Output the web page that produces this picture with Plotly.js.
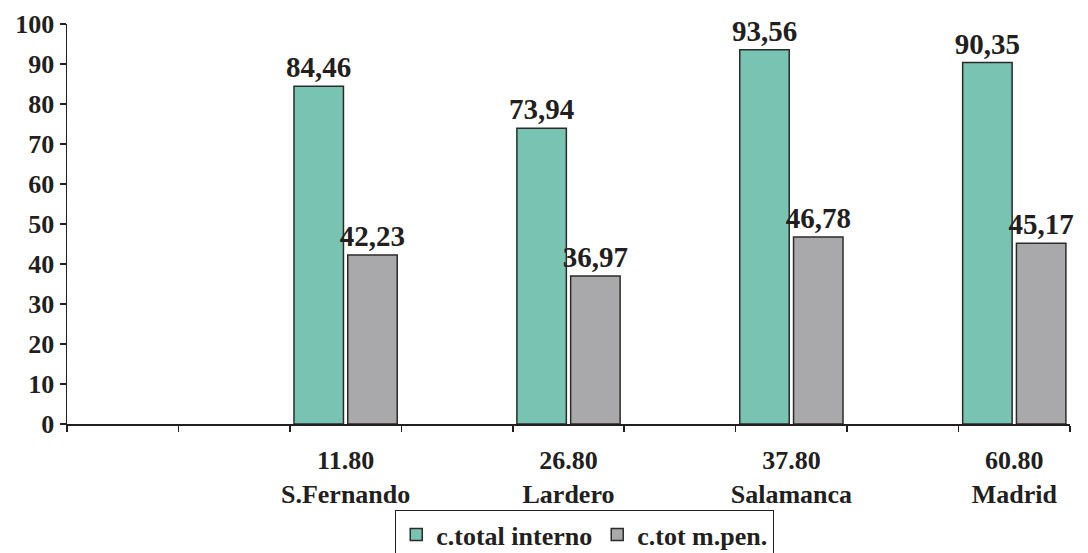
<!DOCTYPE html>
<html>
<head>
<meta charset="utf-8">
<script src="https://cdn.plot.ly/plotly-3.0.1.min.js"></script>
<style>html,body{margin:0;padding:0;background:#fff;}#chart{width:1088px;height:553px;}</style>
</head>
<body>
<div id="chart"></div>
<script>
// Category slots (empty slots are blank, as in the original chart)
var categories = ['', '', '11.80<br>S.Fernando', '', '26.80<br>Lardero', '', '37.80<br>Salamanca', '', '60.80<br>Madrid'];
var totalInterno = [null, null, 84.46, null, 73.94, null, 93.56, null, 90.35];
var totMPen = [null, null, 42.23, null, 36.97, null, 46.78, null, 45.17];
var seriesNames = ['c.total interno', 'c.tot m.pen.'];
var yTicks = [0, 10, 20, 30, 40, 50, 60, 70, 80, 90, 100];

var xIdx = categories.map(function (_, i) { return i; });
function fmt(v) { return v === null ? '' : v.toFixed(2).replace('.', ','); }

var FONT = '"Liberation Serif", "DejaVu Serif", serif';
var labelFont = {family: FONT, size: 29, color: '#231f20', weight: 'bold'};

var traces = [
  {type: 'bar', name: seriesNames[0], x: xIdx, y: totalInterno,
   text: totalInterno.map(fmt), textposition: 'outside', textfont: labelFont, cliponaxis: false,
   constraintext: 'none',
   marker: {color: '#79c3b3', line: {color: '#2b2b2b', width: 1.5}}, hoverinfo: 'skip'},
  {type: 'bar', name: seriesNames[1], x: xIdx, y: totMPen,
   text: totMPen.map(fmt), textposition: 'outside', textfont: labelFont, cliponaxis: false,
   constraintext: 'none',
   marker: {color: '#a9a9ab', line: {color: '#2b2b2b', width: 1.5}}, hoverinfo: 'skip'}
];

var layout = {
  width: 1088, height: 553,
  margin: {l: 67, r: 18, t: 24, b: 129, autoexpand: false},
  paper_bgcolor: '#fff', plot_bgcolor: '#fff',
  font: {family: FONT, color: '#231f20', weight: 'bold'},
  barmode: 'group', bargap: 0.035, bargroupgap: 0.08,
  showlegend: true,
  legend: {orientation: 'h', x: 0.516, xanchor: 'center', y: -0.215, yanchor: 'top',
           bordercolor: '#231f20', borderwidth: 1.2, bgcolor: '#fff',
           font: {family: FONT, size: 26, color: '#231f20', weight: 'bold'},
           tracegroupgap: 0},
  xaxis: {
    range: [-0.5, 8.5], tickvals: xIdx, ticktext: categories, ticks: '',
    showline: true, linecolor: '#231f20', linewidth: 1.5, showgrid: false, zeroline: false,
    tickfont: {family: FONT, size: 26, color: '#231f20', weight: 'bold'},
    ticklabelstandoff: 12, automargin: false,
    minor: {tick0: 0.5, dtick: 1, ticks: 'outside', ticklen: 6, tickcolor: '#231f20', tickwidth: 1.5, showgrid: false},
    fixedrange: true
  },
  yaxis: {
    range: [0, 100], tickvals: yTicks, ticks: 'outside', ticklen: 6, tickcolor: '#231f20', tickwidth: 1.5,
    showline: true, linecolor: '#231f20', linewidth: 1.5, showgrid: false, zeroline: false,
    tickfont: {family: FONT, size: 26, color: '#231f20', weight: 'bold'}, automargin: false,
    fixedrange: true
  }
};

Plotly.newPlot('chart', traces, layout, {displayModeBar: false, staticPlot: true});
</script>
</body>
</html>
